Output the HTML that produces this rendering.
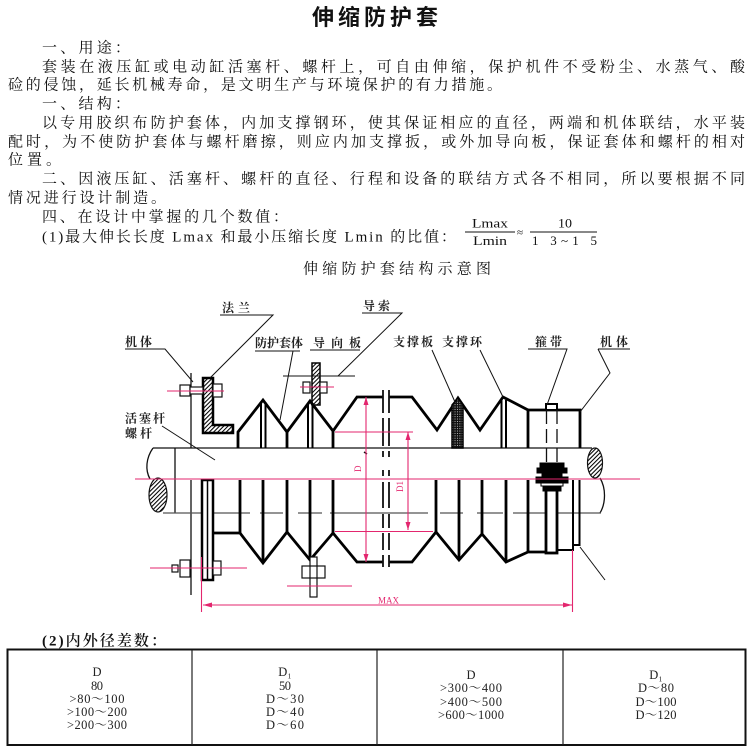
<!DOCTYPE html>
<html><head><meta charset="utf-8"><style>
html,body{margin:0;padding:0;background:#fff;}
#c{position:relative;width:750px;height:750px;overflow:hidden;background:#fff;}
svg{position:absolute;left:0;top:0;}
.b{font-family:"Liberation Serif","Noto Serif CJK SC",serif;font-size:15px;fill:#111;}
.l{font-family:"Liberation Serif","Noto Serif CJK SC",serif;font-size:12px;font-weight:700;fill:#222;}
.tb{font-family:"Liberation Serif","Noto Serif CJK SC",serif;font-size:12.5px;fill:#222;}
</style></head><body><div id="c">
<svg width="750" height="750" viewBox="0 0 750 750">
<defs>
<pattern id="h" patternUnits="userSpaceOnUse" width="3" height="3" patternTransform="rotate(45)"><rect width="3" height="3" fill="#fff"/><line x1="0.5" y1="0" x2="0.5" y2="3" stroke="#000" stroke-width="1.1"/></pattern>
<pattern id="x" patternUnits="userSpaceOnUse" width="2.4" height="2.4"><rect width="2.4" height="2.4" fill="#111"/><rect x="1" y="1" width="0.9" height="0.9" fill="#ddd"/></pattern>
</defs>

<!-- Title -->
<text x="375" y="25" text-anchor="middle" font-family="'Liberation Sans','Noto Sans CJK SC',sans-serif" font-weight="700" font-size="22" fill="#111" textLength="126" lengthAdjust="spacing">伸缩防护套</text>

<!-- Body text -->
<text class="b" x="42" y="52.5" textLength="88" lengthAdjust="spacing">一、用途：</text>
<text class="b" x="42" y="71.5" textLength="703" lengthAdjust="spacing">套装在液压缸或电动缸活塞杆、螺杆上，可自由伸缩，保护机件不受粉尘、水蒸气、酸</text>
<text class="b" x="8" y="89.5" textLength="494" lengthAdjust="spacing">硷的侵蚀，延长机械寿命，是文明生产与环境保护的有力措施。</text>
<text class="b" x="42" y="108.5" textLength="88" lengthAdjust="spacing">一、结构：</text>
<text class="b" x="42" y="127.5" textLength="703" lengthAdjust="spacing">以专用胶织布防护套体，内加支撑钢环，使其保证相应的直径，两端和机体联结，水平装</text>
<text class="b" x="8" y="146.5" textLength="737" lengthAdjust="spacing">配时，为不使防护套体与螺杆磨擦，则应内加支撑扳，或外加导向板，保证套体和螺杆的相对</text>
<text class="b" x="8" y="164.5" textLength="53" lengthAdjust="spacing">位置。</text>
<text class="b" x="42" y="183.5" textLength="703" lengthAdjust="spacing">二、因液压缸、活塞杆、螺杆的直径、行程和设备的联结方式各不相同，所以要根据不同</text>
<text class="b" x="8" y="202.5" textLength="158" lengthAdjust="spacing">情况进行设计制造。</text>
<text class="b" x="42" y="221.5" textLength="246" lengthAdjust="spacing">四、在设计中掌握的几个数值：</text>
<text class="b" x="42" y="241.5" textLength="414" lengthAdjust="spacing">(1)最大伸长长度 Lmax 和最小压缩长度 Lmin 的比值：</text>

<!-- fraction -->
<g font-family="'Liberation Serif',serif" font-size="13" fill="#111">
<text x="490" y="227.5" text-anchor="middle" textLength="36" lengthAdjust="spacingAndGlyphs">Lmax</text>
<line x1="465" y1="232" x2="515" y2="232" stroke="#111" stroke-width="1"/>
<text x="490" y="245" text-anchor="middle" textLength="34" lengthAdjust="spacingAndGlyphs">Lmin</text>
<text x="517" y="236" font-size="11">≈</text>
<text x="565" y="227.5" text-anchor="middle" textLength="14" lengthAdjust="spacingAndGlyphs">10</text>
<line x1="530" y1="232" x2="597" y2="232" stroke="#111" stroke-width="1"/>
<text x="532" y="245" textLength="65" lengthAdjust="spacing">1 3~1 5</text>
</g>

<!-- caption -->
<text class="b" x="303" y="273.5" textLength="188" lengthAdjust="spacing">伸缩防护套结构示意图</text>

<!-- ================= DIAGRAM ================= -->
<!-- rod -->
<g stroke="#111" fill="none" stroke-width="1.3">
<path d="M153,448 H592"/>
<path d="M175,448 V513"/>
<path d="M153,448 C146,458 145,470 150,479"/>
<path d="M191,373 V448 M191,480 V595"/>
<path d="M600,478 C606,488 606,503 600,513"/>
</g>
<ellipse cx="158" cy="495" rx="9" ry="17" fill="url(#h)" stroke="#111" stroke-width="1.2"/>
<ellipse cx="595" cy="463" rx="7.5" ry="15" fill="url(#h)" stroke="#111" stroke-width="1.2"/>
<g stroke="#555" stroke-width="1.3" fill="none">
<path d="M163,513 H250 M260,513 H283 M298,513 H322 M330,513 H428 M440,513 H463 M477,513 H503 M513,513 H601"/>
</g>

<!-- upper flange (L) -->
<path d="M203,378 H213 V425 H233 V433 H203 Z" fill="url(#h)" stroke="#000" stroke-width="2.5"/>
<!-- upper flange bolt -->
<g stroke="#111" stroke-width="1.2" fill="#fff">
<rect x="180" y="385" width="10" height="11"/>
<rect x="190" y="387" width="13" height="7"/>
<rect x="213" y="384" width="9" height="13"/>
</g>
<!-- lower flange plate -->
<rect x="202" y="480" width="11" height="100" fill="#fff" stroke="#000" stroke-width="2.5"/>
<line x1="207.5" y1="480" x2="207.5" y2="580" stroke="#000" stroke-width="1.5"/>
<!-- lower-left bolt -->
<g stroke="#111" stroke-width="1.2" fill="#fff">
<rect x="172" y="565" width="6" height="7"/>
<rect x="180" y="560" width="10" height="17"/>
<rect x="213" y="561" width="8" height="14"/>
</g>

<!-- guide plate -->
<rect x="312" y="363" width="8" height="42" fill="url(#h)" stroke="#000" stroke-width="1.5"/>
<g stroke="#111" stroke-width="1.2" fill="none">
<rect x="303" y="382" width="7" height="11" fill="#fff"/>
<rect x="320" y="382" width="7" height="11" fill="#fff"/>
</g>

<!-- upper bellows -->
<g stroke="#000" fill="none" stroke-width="2.8" stroke-linejoin="miter">
<path d="M238,448 V432 L263,400 L287,432 L310,401 L333,431 L357,397 H383 M389,397 H412 L437,430 L458,398 L480,430 L503,397 L528,410 V448"/>
<path d="M287,432 V448 M333,431 V448"/>
<path d="M528,410 H580 V448"/>
</g>
<g stroke="#000" stroke-width="2" fill="none">
<path d="M261,402 V448 M265.5,402 V448"/>
<path d="M308,403 V448 M312.5,405 V448"/>
<path d="M501.5,398 V448 M506,400 V448"/>
</g>
<polygon points="452,405 458,398 463,405 463,448 452,448" fill="url(#x)" stroke="#000" stroke-width="1.5"/>
<rect x="546" y="404" width="11" height="6" fill="#fff" stroke="#000" stroke-width="2"/>
<path d="M546.5,410 V463 M557,410 V463" stroke="#111" stroke-width="1.3" stroke-dasharray="14 5" fill="none"/>

<!-- lower bellows -->
<g stroke="#000" fill="none" stroke-width="2.8" stroke-linejoin="miter">
<path d="M213,533 H240 L263,563 L287,532 L310,560 L333,533 L357,562 H383 M389,562 H412 L436,532 L459,560 L482,534 L506,562 L528,552 H546"/>
<path d="M240,480 V533 M263,480 V563 M287,480 V532 M310,480 V560 M333,480 V533 M436,480 V532 M459,480 V560 M482,480 V534 M506,480 V562 M528,480 V552"/>
<rect x="546" y="480" width="11" height="73" fill="#fff"/>
</g>
<g stroke="#000" fill="none" stroke-width="2">
<path d="M557,550 H573 V480"/>
<path d="M573,545 H579.5 V480"/>
</g>

<!-- band bolt -->
<g stroke="#000" stroke-width="1">
<rect x="540" y="463" width="24" height="5" fill="#000"/>
<rect x="537" y="468" width="30" height="5" fill="#000"/>
<rect x="542" y="473" width="20" height="4" fill="#000"/>
<rect x="536" y="477" width="32" height="6" fill="#000"/>
<rect x="541" y="483" width="22" height="3" fill="#fff"/>
<rect x="543" y="486" width="18" height="5" fill="#000"/>
</g>

<!-- lower middle bolt -->
<g stroke="#111" stroke-width="1.2" fill="#fff">
<rect x="310" y="557" width="7" height="40"/>
<rect x="302" y="566" width="23" height="12"/>
<line x1="310" y1="566" x2="310" y2="578"/>
<line x1="317" y1="566" x2="317" y2="578"/>
</g>

<!-- break lines -->
<g stroke="#111" stroke-width="1.8" fill="none">
<path d="M383,390 V413 M383,418 V446 M383,451 V457 M383,470 V476 M383,482 V508 M383,514 V528 M383,533 V550 M383,555 V567"/>
<path d="M389,390 V413 M389,418 V446 M389,451 V457 M389,470 V476 M389,482 V508 M389,514 V528 M389,533 V550 M389,555 V567"/>
</g>
<line x1="364" y1="452" x2="367" y2="454" stroke="#111" stroke-width="1.5"/>

<!-- pink lines -->
<g stroke="#e3266e" stroke-width="1.1" fill="none">
<path d="M135,479 H640"/>
<path d="M167,391 H224"/>
<path d="M300,387 H334"/>
<path d="M150,568 H247"/>
<path d="M287,586 H352"/>
<path d="M366,397 V562"/>
<path d="M408,432 V530"/>
<path d="M335,432 H413"/>
<path d="M335,531.5 H433"/>
<path d="M203,605 H572"/>
<path d="M201.5,557 V612"/>
<path d="M572.5,550 V612"/>
</g>
<g fill="#e3266e">
<polygon points="366,397 363.5,405 368.5,405"/>
<polygon points="366,562 363.5,554 368.5,554"/>
<polygon points="408,432 405.5,440 410.5,440"/>
<polygon points="408,530 405.5,522 410.5,522"/>
<polygon points="203,605 212,602.5 212,607.5"/>
<polygon points="572,605 563,602.5 563,607.5"/>
</g>
<g font-family="'Liberation Serif',serif" font-size="9" fill="#e3266e">
<text x="0" y="0" transform="translate(361,472) rotate(-90)">D</text>
<text x="0" y="0" transform="translate(403,492) rotate(-90)">D1</text>
<text x="378" y="603.5" textLength="21" lengthAdjust="spacing">MAX</text>
</g>

<!-- leaders -->
<g stroke="#111" stroke-width="1" fill="none">
<path d="M220,315 H273 L210,378"/>
<path d="M125,349 H165 L193,382"/>
<path d="M255,351 H300 M293,351 L280,420"/>
<path d="M310,350 H360"/>
<path d="M362,313 H402 L338,376 M283,376 H355"/>
<path d="M162,426 L215,460"/>
<path d="M432,350 L455,402"/>
<path d="M480,350 L503,397"/>
<path d="M528,349 H567 L547,405"/>
<path d="M598,349 H630 M598,349 L610,373 L580,412"/>
<path d="M580,547 L605,580"/>
</g>

<!-- labels -->
<text class="l" x="222" y="312" textLength="28" lengthAdjust="spacing">法兰</text>
<text class="l" x="363" y="310" textLength="27" lengthAdjust="spacing">导索</text>
<text class="l" x="125" y="346" textLength="27" lengthAdjust="spacing">机体</text>
<text class="l" x="255" y="347" textLength="48" lengthAdjust="spacing">防护套体</text>
<text class="l" x="313" y="347" textLength="48" lengthAdjust="spacing">导向板</text>
<text class="l" x="393" y="346" textLength="40" lengthAdjust="spacing">支撑板</text>
<text class="l" x="442" y="346" textLength="40" lengthAdjust="spacing">支撑环</text>
<text class="l" x="535" y="346" textLength="27" lengthAdjust="spacing">箍带</text>
<text class="l" x="600" y="346" textLength="28" lengthAdjust="spacing">机体</text>
<text class="l" x="125" y="422.5" textLength="40" lengthAdjust="spacing">活塞杆</text>
<text class="l" x="125" y="437.5" textLength="27" lengthAdjust="spacing">螺杆</text>

<!-- table -->
<text class="b" x="42" y="645.5" font-weight="600" textLength="124" lengthAdjust="spacing">(2)内外径差数：</text>
<rect x="7.5" y="649.5" width="738" height="95.5" fill="none" stroke="#111" stroke-width="2"/>
<g stroke="#222" stroke-width="1.2">
<line x1="192" y1="650" x2="192" y2="745"/>
<line x1="377" y1="650" x2="377" y2="745"/>
<line x1="563" y1="650" x2="563" y2="745"/>
</g>
<g class="tb" text-anchor="middle">
<text class="tb" x="97" y="676">D</text>
<text class="tb" x="97" y="690" textLength="12" lengthAdjust="spacing">80</text>
<text class="tb" x="97" y="703" textLength="55" lengthAdjust="spacing">&gt;80～100</text>
<text class="tb" x="97" y="716" textLength="60" lengthAdjust="spacing">&gt;100～200</text>
<text class="tb" x="97" y="729" textLength="60" lengthAdjust="spacing">&gt;200～300</text>

<text class="tb" x="285" y="676">D₁</text>
<text class="tb" x="285" y="690" textLength="12" lengthAdjust="spacing">50</text>
<text class="tb" x="285" y="703" textLength="38" lengthAdjust="spacing">D～30</text>
<text class="tb" x="285" y="716" textLength="38" lengthAdjust="spacing">D～40</text>
<text class="tb" x="285" y="729" textLength="38" lengthAdjust="spacing">D～60</text>

<text class="tb" x="471" y="679">D</text>
<text class="tb" x="471" y="692" textLength="62" lengthAdjust="spacing">&gt;300～400</text>
<text class="tb" x="471" y="706" textLength="62" lengthAdjust="spacing">&gt;400～500</text>
<text class="tb" x="471" y="719" textLength="66" lengthAdjust="spacing">&gt;600～1000</text>

<text class="tb" x="656" y="679">D₁</text>
<text class="tb" x="656" y="692" textLength="36" lengthAdjust="spacing">D～80</text>
<text class="tb" x="656" y="706" textLength="41" lengthAdjust="spacing">D～100</text>
<text class="tb" x="656" y="719" textLength="41" lengthAdjust="spacing">D～120</text>
</g>
</svg>
</div></body></html>
